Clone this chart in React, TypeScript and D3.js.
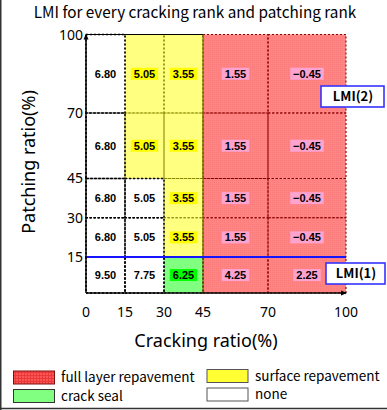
import React from "react";
import * as d3 from "d3";

const crackEdges = [0, 15, 30, 45, 70, 100];
const patchEdges = [0, 15, 30, 45, 70, 100];
const xTicks = [0, 15, 30, 45, 70, 100];
const yTicks = [15, 30, 45, 70, 100];
// rows from bottom (patching 0-15) to top (70-100); columns cracking 0-15 .. 70-100
const lmiValues = [
  [9.5, 7.75, 6.25, 4.25, 2.25],
  [6.8, 5.05, 3.55, 1.55, -0.45],
  [6.8, 5.05, 3.55, 1.55, -0.45],
  [6.8, 5.05, 3.55, 1.55, -0.45],
  [6.8, 5.05, 3.55, 1.55, -0.45],
];
const treatments = [
  ["none", "none", "seal", "full", "full"],
  ["none", "none", "surface", "full", "full"],
  ["none", "none", "surface", "full", "full"],
  ["none", "surface", "surface", "full", "full"],
  ["none", "surface", "surface", "full", "full"],
];
const lmi1Level = 15;
const legendItems = [
  { key: "full", label: "full layer repavement" },
  { key: "surface", label: "surface repavement" },
  { key: "seal", label: "crack seal" },
  { key: "none", label: "none" },
];

const styles: Record<string, { fill: string; stroke: string; labelBg: string | null; swatch: string; swatchStroke: string }> = {
  full: { fill: "#ff8484", stroke: "#8b0000", labelBg: "#fca3cf", swatch: "url(#redHatch)", swatchStroke: "#7a1010" },
  surface: { fill: "#ffff80", stroke: "#8a8a00", labelBg: "#ffff00", swatch: "#ffff33", swatchStroke: "#555" },
  seal: { fill: "#80ff80", stroke: "#111", labelBg: "#00ff00", swatch: "#80ff80", swatchStroke: "#333" },
  none: { fill: "#ffffff", stroke: "#000", labelBg: null, swatch: "#ffffff", swatchStroke: "#555" },
};

const JP = "'Noto Sans CJK JP', 'Noto Sans', sans-serif";
const NS = "'Noto Sans', 'Open Sans', sans-serif";
const fmt = d3.format(".2f");

export default function App() {
  const x = d3.scaleLinear().domain([0, 100]).range([86, 346]);
  const y = d3.scaleLinear().domain([0, 15, 100]).range([293, 257, 34.5]);

  const cells: any[] = [];
  treatments.forEach((row, ri) =>
    row.forEach((t, ci) => {
      cells.push({
        t,
        v: lmiValues[ri][ci],
        x0: crackEdges[ci],
        x1: crackEdges[ci + 1],
        y0: patchEdges[ri],
        y1: patchEdges[ri + 1],
      });
    })
  );
  const order = ["full", "surface", "seal", "none"];
  const sorted = [...cells].sort((a, b) => order.indexOf(a.t) - order.indexOf(b.t));

  return (
    <div>
      <style>{`body{margin:0}`}</style>
      <svg width={387} height={410} style={{ position: "absolute", left: 0, top: 0, background: "#fff" }}>
        <defs>
          <pattern id="redHatch" width="3" height="3" patternUnits="userSpaceOnUse">
            <rect width="3" height="3" fill="#ff5555" />
            <rect width="1" height="3" fill="#e83a3a" />
            <rect width="3" height="1" fill="#e83a3a" />
          </pattern>
          <pattern id="redCell" width="2" height="2" patternUnits="userSpaceOnUse">
            <rect width="2" height="2" fill="#ff8585" />
            <rect width="1" height="1" fill="#fb7b7b" />
          </pattern>
        </defs>

        {/* frame */}
        <line x1={0.75} y1={0} x2={0.75} y2={410} stroke="#333" strokeWidth={1.5} />
        <line x1={0} y1={408.5} x2={387} y2={408.5} stroke="#333" strokeWidth={1.5} />

        <text x={195} y={18} textAnchor="middle" fontFamily={JP} fontSize={15.3} fill="#000">
          LMI for every cracking rank and patching rank
        </text>

        {/* cells fills */}
        {cells.map((c, i) => (
          <rect
            key={"f" + i}
            x={x(c.x0)}
            y={y(c.y1)}
            width={x(c.x1) - x(c.x0)}
            height={y(c.y0) - y(c.y1)}
            fill={c.t === "full" ? "url(#redCell)" : styles[c.t].fill}
          />
        ))}
        {/* cell borders */}
        {sorted.map((c, i) => (
          <rect
            key={"b" + i}
            x={x(c.x0)}
            y={y(c.y1)}
            width={x(c.x1) - x(c.x0)}
            height={y(c.y0) - y(c.y1)}
            fill="none"
            stroke={styles[c.t].stroke}
            strokeWidth={c.t === "none" ? 1.6 : 1.1}
            strokeDasharray="2,2"
          />
        ))}
        {/* top border of left region */}
        <line x1={x(0)} y1={y(100)} x2={x(45)} y2={y(100)} stroke="#000" strokeWidth={1} />
        <line x1={x(45)} y1={y(0)} x2={x(45)} y2={y(100)} stroke="#6b6b00" strokeWidth={1} />

        {/* LMI(1) line */}
        <line x1={x(0)} y1={y(lmi1Level)} x2={x(100)} y2={y(lmi1Level)} stroke="#1515ff" strokeWidth={2} />

        {/* axes */}
        <line x1={x(0)} y1={y(0)} x2={x(0)} y2={y(100)} stroke="#000" strokeWidth={1.5} />
        <line x1={x(0)} y1={y(0)} x2={x(100)} y2={y(0)} stroke="#000" strokeWidth={1.5} />
        <path d={`M${x(0) - 2.5},${y(100) + 5} L${x(0)},${y(100) - 1} L${x(0) + 2.5},${y(100) + 5} Z`} fill="#000" />
        <path d={`M${x(100) - 5},${y(0) - 2.5} L${x(100) + 1},${y(0)} L${x(100) - 5},${y(0) + 2.5} Z`} fill="#000" />

        {/* labels in cells */}
        {cells.map((c, i) => {
          const cx = (x(c.x0) + x(c.x1)) / 2;
          const cy = (y(c.y0) + y(c.y1)) / 2;
          const s = fmt(c.v);
          const w = s.length * 6.1 + 3;
          const bg = styles[c.t].labelBg;
          return (
            <g key={"l" + i}>
              {bg && <rect x={cx - w / 2} y={cy - 6} width={w} height={12} fill={bg} />}
              <text
                x={cx}
                y={cy + 4}
                textAnchor="middle"
                fontFamily="'Liberation Sans', Arial, sans-serif"
                fontWeight="bold"
                fontSize={11}
                fill="#000"
              >
                {s}
              </text>
            </g>
          );
        })}

        {/* ticks labels */}
        {xTicks.map((t) => (
          <text key={"x" + t} x={x(t)} y={317} textAnchor="middle" fontFamily={NS} fontSize={14} fill="#000">
            {t}
          </text>
        ))}
        {yTicks.map((t) => (
          <text key={"y" + t} x={83} y={y(t) + 5} textAnchor="end" fontFamily={NS} fontSize={14} fill="#000">
            {t}
          </text>
        ))}

        <text x={206} y={347} textAnchor="middle" fontFamily={NS} fontSize={18} fill="#000">
          Cracking ratio(%)
        </text>
        <text
          transform="translate(35,162) rotate(-90)"
          textAnchor="middle"
          fontFamily={NS}
          fontSize={18}
          fill="#000"
        >
          Patching ratio(%)
        </text>

        {/* LMI boxes */}
        <rect x={321} y={86} width={63} height={21} fill="#fff" stroke="#3333ff" strokeWidth={1.6} />
        <text x={353} y={101} textAnchor="middle" fontFamily={JP} fontWeight="bold" fontSize={13} fill="#000">
          LMI(2)
        </text>
        <rect x={326} y={263} width={59} height={21} fill="#fff" stroke="#3333ff" strokeWidth={1.6} />
        <text x={356} y={278} textAnchor="middle" fontFamily={JP} fontWeight="bold" fontSize={13} fill="#000">
          LMI(1)
        </text>

        {/* legend */}
        {legendItems.map((it, i) => {
          const col = i % 2;
          const row = Math.floor(i / 2);
          const sx = col === 0 ? 13.5 : 207;
          const sy = (col === 0 ? 371 : 369.5) + row * 18.5;
          const tx = col === 0 ? 61 : 255;
          return (
            <g key={it.key}>
              <rect x={sx} y={sy} width={41} height={13} fill={styles[it.key].swatch} stroke={styles[it.key].swatchStroke} strokeWidth={1} />
              <text x={tx} y={sy + 11} fontFamily={JP} fontSize={13.5} fill="#000">
                {it.label}
              </text>
            </g>
          );
        })}
      </svg>
    </div>
  );
}
